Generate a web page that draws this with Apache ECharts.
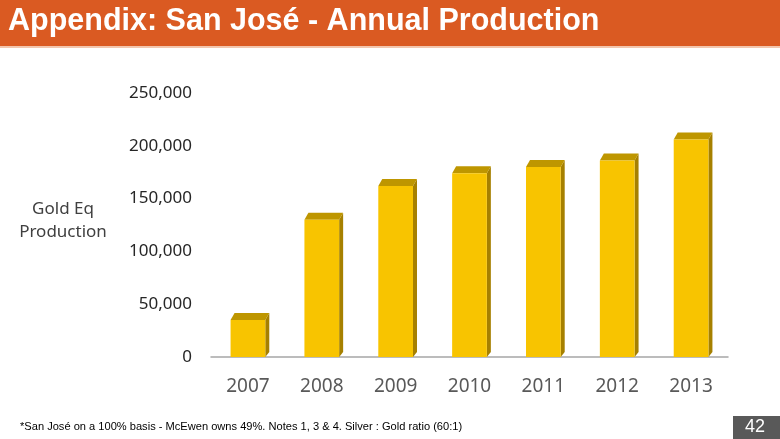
<!DOCTYPE html>
<html><head><meta charset="utf-8">
<script src="https://cdn.jsdelivr.net/npm/echarts@6/dist/echarts.min.js"></script>
<style>html,body{margin:0;padding:0;background:#fff;}#c{width:780px;height:439px;}</style>
</head><body><div id="c"></div>
<script>
const categories = ['2007','2008','2009','2010','2011','2012','2013'];
const production = [35000, 130000, 162000, 174000, 180000, 186000, 206000];
const yTicks = [0, 50000, 100000, 150000, 200000, 250000];

const chart = echarts.init(document.getElementById('c'));
const FRONT = '#F8C400', TOP = '#BE9600', SIDE = '#A68000';
const DX = 4, DY = 7;

function renderBar(params, api) {
  const idx = api.value(0), val = api.value(1);
  const top = api.coord([idx, val]);
  const base = api.coord([idx, 0]);
  const bw = api.size([1, 0])[0] * 0.47;
  const x0 = top[0] - bw / 2, x1 = top[0] + bw / 2;
  const yT = top[1], yB = base[1];
  return {
    type: 'group',
    children: [
      { type: 'polygon', shape: { points: [[x1, yT], [x1 + DX, yT - DY], [x1 + DX, yB - DY + 2], [x1, yB]] },
        style: { fill: SIDE } },
      { type: 'polygon', shape: { points: [[x0, yT], [x1, yT], [x1 + DX, yT - DY], [x0 + DX, yT - DY]] },
        style: { fill: TOP } },
      { type: 'rect', shape: { x: x0, y: yT, width: bw, height: yB - yT },
        style: { fill: FRONT } }
    ]
  };
}

chart.setOption({
  animation: false,
  backgroundColor: '#ffffff',
  graphic: [
    { type: 'rect', shape: { x: 0, y: 0, width: 780, height: 46 }, style: { fill: '#DA5A22' } },
    { type: 'rect', shape: { x: 0, y: 46, width: 780, height: 2 }, style: { fill: '#F2C6AE' } },
    { type: 'text', left: 8, top: 6, style: { text: 'Appendix: San José - Annual Production', fill: '#ffffff',
      font: 'bold 30.5px "Liberation Sans", Arial, sans-serif' } },
    { type: 'text', left: 20, top: 421, style: { text: '*San José on a 100% basis - McEwen owns 49%. Notes 1, 3 & 4. Silver : Gold ratio (60:1)',
      fill: '#000000', font: '11.1px "Liberation Sans", Arial, sans-serif' } },
    { type: 'rect', shape: { x: 733, y: 416, width: 47, height: 23 }, style: { fill: '#595959' } },
    { type: 'text', left: 745, top: 418, style: { text: '42', fill: '#ffffff', font: '18px "Liberation Sans", Arial, sans-serif' } },
    { type: 'text', x: 63, y: 198, style: { text: 'Gold Eq\nProduction', fill: '#404040', align: 'center',
      font: '17px "Noto Sans", sans-serif', lineHeight: 23 } }
  ],
  grid: { left: 211, right: 52, top: 93, bottom: 82 },
  xAxis: {
    type: 'category', data: categories,
    axisLine: { show: true, lineStyle: { color: '#A6A6A6', width: 1.5 } },
    axisTick: { show: false },
    axisLabel: { color: '#595959', fontSize: 19, fontFamily: '"Noto Sans", sans-serif', margin: 20 }
  },
  yAxis: {
    type: 'value', min: 0, max: yTicks[yTicks.length - 1], interval: yTicks[1] - yTicks[0],
    axisLine: { show: false }, axisTick: { show: false }, splitLine: { show: false },
    axisLabel: { color: '#262626', fontSize: 17, fontFamily: '"Noto Sans", sans-serif', margin: 19,
      formatter: v => v.toLocaleString('en-US') }
  },
  series: [{
    type: 'custom', renderItem: renderBar,
    data: production.map((v, i) => [i, v]),
    encode: { x: 0, y: 1 }, clip: false
  }]
});
</script></body></html>
